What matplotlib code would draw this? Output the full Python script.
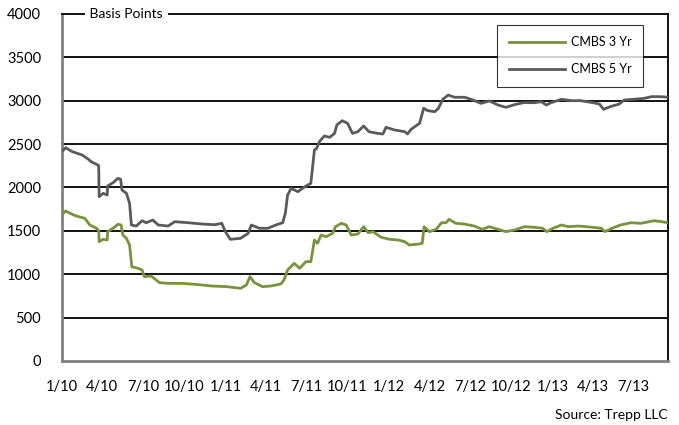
import pandas as pd
import matplotlib
matplotlib.use("Agg")
import matplotlib.pyplot as plt
import matplotlib.dates as mdates

plt.rcParams['font.family'] = ['Lato', 'DejaVu Sans']

# CMBS 5 Yr spread (bp)
dates_5yr = ["2010-01-04", "2010-01-09", "2010-01-24", "2010-02-15", "2010-03-01", "2010-03-07",
             "2010-03-22", "2010-03-24", "2010-03-25", "2010-04-03", "2010-04-12", "2010-04-13",
             "2010-04-25", "2010-05-06", "2010-05-12", "2010-05-15", "2010-05-25", "2010-06-01",
             "2010-06-05", "2010-06-16", "2010-06-29", "2010-07-08", "2010-07-23", "2010-08-04",
             "2010-08-26", "2010-09-10", "2010-10-10", "2010-11-10", "2010-12-08", "2010-12-24",
             "2011-01-01", "2011-01-12", "2011-02-04", "2011-02-21", "2011-02-28", "2011-03-18",
             "2011-04-06", "2011-04-24", "2011-05-09", "2011-05-15", "2011-05-20", "2011-05-28",
             "2011-06-12", "2011-06-30", "2011-07-11", "2011-07-19", "2011-07-24", "2011-07-30",
             "2011-08-10", "2011-08-22", "2011-09-02", "2011-09-07", "2011-09-19", "2011-10-01",
             "2011-10-12", "2011-10-24", "2011-11-06", "2011-11-18", "2011-12-07", "2011-12-19",
             "2011-12-26", "2012-01-14", "2012-02-06", "2012-02-12", "2012-02-20", "2012-03-10",
             "2012-03-19", "2012-03-28", "2012-04-13", "2012-04-21", "2012-05-01", "2012-05-13",
             "2012-05-27", "2012-06-19", "2012-07-07", "2012-07-25", "2012-08-13", "2012-09-01",
             "2012-09-19", "2012-10-08", "2012-10-28", "2012-11-22", "2012-12-07", "2012-12-18",
             "2012-12-29", "2013-01-21", "2013-02-12", "2013-03-05", "2013-04-01", "2013-04-16",
             "2013-04-25", "2013-05-10", "2013-05-30", "2013-06-10", "2013-07-02", "2013-07-25",
             "2013-08-10", "2013-09-01", "2013-09-16"]
cmbs_5yr = [2430, 2459, 2413, 2375, 2325, 2298,
            2259, 2250, 1894, 1933, 1913, 2017,
            2056, 2105, 2094, 1971, 1933, 1818,
            1568, 1556, 1617, 1594, 1625, 1568,
            1556, 1606, 1594, 1579, 1571, 1587,
            1491, 1403, 1414, 1472, 1568, 1530,
            1530, 1568, 1594, 1702, 1913, 1990,
            1952, 2017, 2048, 2432, 2452, 2528,
            2594, 2578, 2624, 2720, 2770, 2740,
            2624, 2643, 2709, 2643, 2624, 2617,
            2694, 2663, 2643, 2617, 2671, 2740,
            2913, 2886, 2874, 2913, 3017, 3066,
            3040, 3040, 3009, 2970, 2997, 2951,
            2924, 2955, 2978, 2978, 2989, 2951,
            2978, 3017, 3001, 3001, 2978, 2962,
            2901, 2932, 2962, 3009, 3017, 3028,
            3047, 3047, 3040]

# CMBS 3 Yr spread (bp)
dates_3yr = ["2010-01-04", "2010-01-09", "2010-01-27", "2010-02-07", "2010-02-21", "2010-03-04",
             "2010-03-19", "2010-03-24", "2010-03-25", "2010-04-03", "2010-04-12", "2010-04-13",
             "2010-04-25", "2010-05-06", "2010-05-13", "2010-05-17", "2010-05-25", "2010-06-01",
             "2010-06-06", "2010-06-20", "2010-06-29", "2010-07-04", "2010-07-19", "2010-08-07",
             "2010-08-26", "2010-09-25", "2010-10-25", "2010-12-01", "2011-01-04", "2011-02-04",
             "2011-02-17", "2011-02-25", "2011-03-07", "2011-03-25", "2011-04-13", "2011-05-05",
             "2011-05-12", "2011-05-20", "2011-06-04", "2011-06-16", "2011-06-30", "2011-07-11",
             "2011-07-19", "2011-07-26", "2011-08-03", "2011-08-14", "2011-08-29", "2011-09-04",
             "2011-09-17", "2011-09-28", "2011-10-09", "2011-10-24", "2011-11-06", "2011-11-16",
             "2011-11-27", "2011-12-15", "2012-01-03", "2012-01-22", "2012-02-06", "2012-02-16",
             "2012-03-09", "2012-03-16", "2012-03-20", "2012-04-01", "2012-04-16", "2012-04-28",
             "2012-05-08", "2012-05-15", "2012-05-30", "2012-06-18", "2012-07-10", "2012-07-28",
             "2012-08-13", "2012-09-01", "2012-09-19", "2012-10-08", "2012-10-30", "2012-11-22",
             "2012-12-10", "2012-12-19", "2013-01-02", "2013-01-21", "2013-02-05", "2013-02-28",
             "2013-03-19", "2013-04-20", "2013-04-28", "2013-05-14", "2013-06-02", "2013-06-25",
             "2013-07-17", "2013-08-16", "2013-09-01", "2013-09-16"]
cmbs_3yr = [1702, 1729, 1683, 1664, 1645, 1568,
            1530, 1502, 1375, 1403, 1395, 1491,
            1530, 1576, 1568, 1452, 1414, 1337,
            1087, 1068, 1049, 972, 980, 903,
            895, 895, 884, 865, 857, 838,
            876, 972, 903, 857, 865, 888,
            934, 1049, 1126, 1068, 1145, 1145,
            1395, 1357, 1452, 1433, 1472, 1548,
            1587, 1568, 1452, 1464, 1548, 1479,
            1491, 1426, 1403, 1395, 1375, 1337,
            1349, 1357, 1548, 1491, 1518, 1594,
            1594, 1633, 1587, 1579, 1556, 1518,
            1548, 1518, 1491, 1510, 1548, 1541,
            1530, 1491, 1530, 1568, 1548, 1556,
            1548, 1530, 1491, 1530, 1568, 1594,
            1587, 1617, 1606, 1594]

tick_dates = pd.date_range("2010-01-01", "2013-07-01", freq="QS")
tick_labels = ["1/10", "4/10", "7/10", "10/10", "1/11", "4/11", "7/11", "10/11",
               "1/12", "4/12", "7/12", "10/12", "1/13", "4/13", "7/13"]
y_ticks = [0, 500, 1000, 1500, 2000, 2500, 3000, 3500, 4000]

green = "#77933C"
grey = "#5A5A5A"

fig = plt.figure(figsize=(6.79, 4.25), dpi=100)
ax = fig.add_axes([62 / 679, 1 - 361 / 425, 606 / 679, 347 / 425])

for yv in y_ticks[1:-1]:
    ax.axhline(yv, color="black", lw=1.3, zorder=1)

ax.plot(pd.to_datetime(dates_3yr), cmbs_3yr, color=green, lw=2.0, label="CMBS 3 Yr", zorder=3)
ax.plot(pd.to_datetime(dates_5yr), cmbs_5yr, color=grey, lw=2.0, label="CMBS 5 Yr", zorder=3)

ax.set_xlim(pd.Timestamp("2010-01-01"), pd.Timestamp("2013-09-16"))
ax.set_ylim(0, 4000)
ax.set_yticks(y_ticks)
ax.set_xticks(tick_dates)
ax.set_xticklabels(tick_labels)
ax.tick_params(length=0, labelsize=10.5, colors="black")
ax.tick_params(axis="x", pad=14)
ax.tick_params(axis="y", pad=15)

ax.spines["left"].set_color("#808080")
ax.spines["left"].set_linewidth(2)
ax.spines["bottom"].set_color("#808080")
ax.spines["bottom"].set_linewidth(2)
ax.spines["right"].set_color("black")
ax.spines["right"].set_linewidth(1.3)
ax.spines["top"].set_color("black")
ax.spines["top"].set_linewidth(1.3)

ax.text(0.04, 1.0, " Basis Points ", transform=ax.transAxes, ha="left", va="center",
        fontsize=10, bbox=dict(facecolor="white", edgecolor="none", pad=1), zorder=5, clip_on=False)

leg = ax.legend(loc="upper right", bbox_to_anchor=(0.959, 0.968), fontsize=9, frameon=True,
                fancybox=False, edgecolor="black", handlelength=4.5, labelspacing=1.2,
                borderpad=0.9, handletextpad=0.5, borderaxespad=0)
leg.get_frame().set_linewidth(0.8)

fig.text(668 / 679, 1 - 415 / 425, "Source: Trepp LLC", ha="right", va="center", fontsize=10)

fig.savefig("out.png", dpi=100)
